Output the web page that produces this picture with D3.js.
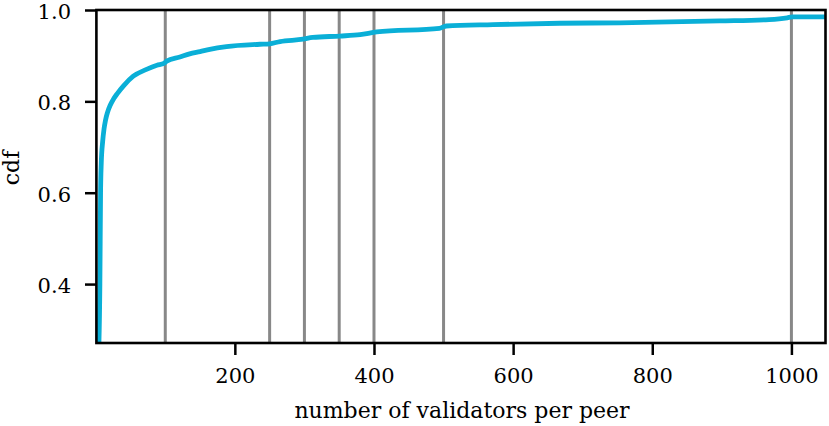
<!DOCTYPE html>
<html>
<head>
<meta charset="utf-8">
<script src="https://cdn.jsdelivr.net/npm/d3@7"></script>
<style>
  html, body { margin: 0; padding: 0; background: #fff; }
  svg { display: block; }
  text { font-family: "DejaVu Serif", serif; fill: #000; }
</style>
</head>
<body>
<svg id="chart" width="829" height="426"></svg>
<script>
// ---- data ----
const validators = [4, 6, 7, 8, 10, 12, 14, 17, 21, 26, 31, 40, 54, 73, 88, 98, 102, 121, 135, 150, 164, 188, 236, 250, 265, 298, 312, 351, 380, 404, 494, 504, 571, 667, 753, 897, 968, 994, 1001, 1049];
const cdf        = [0.24, 0.40, 0.60, 0.665, 0.712, 0.740, 0.758, 0.776, 0.792, 0.806, 0.817, 0.834, 0.855, 0.870, 0.879, 0.883, 0.888, 0.897, 0.904, 0.909, 0.914, 0.920, 0.925, 0.926, 0.931, 0.936, 0.940, 0.943, 0.946, 0.952, 0.960, 0.965, 0.968, 0.971, 0.972, 0.976, 0.979, 0.983, 0.985, 0.985];
const markers    = [100, 250, 300, 350, 400, 500, 1000];
const xTicks     = [200, 400, 600, 800, 1000];
const yTicks     = [0.4, 0.6, 0.8, 1.0];
const xLabel = "number of validators per peer";
const yLabel = "cdf";

// ---- layout ----
const svg = d3.select("#chart");
const mLeft = 96.4, mRight = 825.5, mTop = 10, mBottom = 343;

const x = d3.scaleLinear().domain([1, 1049]).range([mLeft, mRight]);
const y = d3.scaleLinear().domain([0.271, 1.0]).range([mBottom, mTop]);

svg.append("defs").append("clipPath").attr("id", "clip")
  .append("rect").attr("x", mLeft).attr("y", mTop).attr("width", mRight - mLeft).attr("height", mBottom - mTop);

const plot = svg.append("g").attr("clip-path", "url(#clip)");

// vertical marker lines
plot.selectAll("line.marker").data(markers).enter().append("line")
  .attr("class", "marker")
  .attr("x1", d => x(d)).attr("x2", d => x(d))
  .attr("y1", mTop).attr("y2", mBottom)
  .attr("stroke", "#888888").attr("stroke-width", 3);

// cdf line
const pts = validators.map((v, i) => [v, cdf[i]]);
plot.append("path").datum(pts)
  .attr("fill", "none")
  .attr("stroke", "#0aafd7")
  .attr("stroke-width", 4.8)
  .attr("stroke-linejoin", "round")
  .attr("d", d3.line().x(d => x(d[0])).y(d => y(d[1])).curve(d3.curveMonotoneX));

// axes
const xAxis = d3.axisBottom(x).tickValues(xTicks).tickFormat(d3.format("d")).tickSize(12).tickPadding(13);
const yAxis = d3.axisLeft(y).tickValues(yTicks).tickFormat(d3.format(".1f")).tickSize(11.4).tickPadding(14);

const gx = svg.append("g").attr("transform", `translate(0,${mBottom})`).call(xAxis);
const gy = svg.append("g").attr("transform", `translate(${mLeft},0)`).call(yAxis);
[gx, gy].forEach(g => {
  g.select(".domain").remove();
  g.selectAll(".tick line").attr("stroke", "#000").attr("stroke-width", 2.5);
  g.selectAll(".tick text").style("font-size", "21px").style("font-family", "DejaVu Serif");
});
gy.selectAll(".tick text").attr("dy", "8.5px");

// frame (spines)
svg.append("rect")
  .attr("x", mLeft).attr("y", mTop).attr("width", mRight - mLeft).attr("height", mBottom - mTop)
  .attr("fill", "none").attr("stroke", "#000").attr("stroke-width", 2.6);

// axis labels
svg.append("text")
  .attr("x", 462).attr("y", 418)
  .attr("text-anchor", "middle").style("font-size", "22px")
  .text(xLabel);

svg.append("text")
  .attr("transform", `translate(19,168) rotate(-90)`)
  .attr("text-anchor", "middle").style("font-size", "22px")
  .text(yLabel);
</script>
</body>
</html>
